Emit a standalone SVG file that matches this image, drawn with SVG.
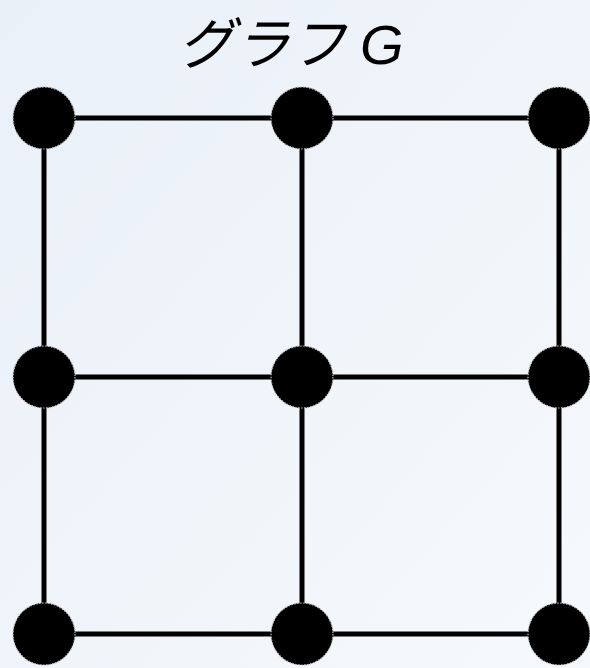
<svg xmlns="http://www.w3.org/2000/svg" width="590" height="668" viewBox="0 0 590 668">
<defs>
<linearGradient id="bg" x1="0" y1="0" x2="1" y2="1">
<stop offset="0" stop-color="#e9f0f8"/>
<stop offset="1" stop-color="#f6f9fc"/>
</linearGradient>
</defs>
<style>
.e{stroke:#000;stroke-width:5;fill:none}
.n{fill:#000;stroke:#bbb;stroke-width:1.2;stroke-dasharray:1.5 1.5}
.t{font-family:"Liberation Sans","Noto Sans CJK JP",sans-serif;font-size:56px;font-style:italic;fill:#000}
</style>
<rect width="590" height="668" fill="url(#bg)"/>
<text class="t" x="178" y="64">グラフ<tspan dx="14">G</tspan></text>
<g id="edges">
<line class="e" x1="44" y1="118" x2="302" y2="118"/>
<line class="e" x1="302" y1="118" x2="559" y2="118"/>
<line class="e" x1="44" y1="377" x2="302" y2="377"/>
<line class="e" x1="302" y1="377" x2="559" y2="377"/>
<line class="e" x1="44" y1="634" x2="302" y2="634"/>
<line class="e" x1="302" y1="634" x2="559" y2="634"/>
<line class="e" x1="44" y1="118" x2="44" y2="377"/>
<line class="e" x1="44" y1="377" x2="44" y2="634"/>
<line class="e" x1="302" y1="118" x2="302" y2="377"/>
<line class="e" x1="302" y1="377" x2="302" y2="634"/>
<line class="e" x1="559" y1="118" x2="559" y2="377"/>
<line class="e" x1="559" y1="377" x2="559" y2="634"/>
</g>
<g id="n1"><circle class="n" cx="44" cy="118" r="31"/></g>
<g id="n2"><circle class="n" cx="302" cy="118" r="31"/></g>
<g id="n3"><circle class="n" cx="559" cy="118" r="31"/></g>
<g id="n4"><circle class="n" cx="44" cy="377" r="31"/></g>
<g id="n5"><circle class="n" cx="302" cy="377" r="31"/></g>
<g id="n6"><circle class="n" cx="559" cy="377" r="31"/></g>
<g id="n7"><circle class="n" cx="44" cy="634" r="31"/></g>
<g id="n8"><circle class="n" cx="302" cy="634" r="31"/></g>
<g id="n9"><circle class="n" cx="559" cy="634" r="31"/></g>
</svg>
